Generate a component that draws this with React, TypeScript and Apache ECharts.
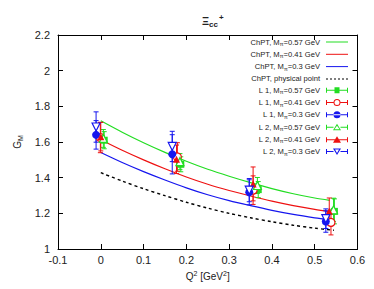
import React, { useEffect, useRef } from "react";
import * as echarts from "echarts";

// ChPT curves
const qLine = [0, 0.05, 0.1, 0.15, 0.2, 0.25, 0.3, 0.35, 0.4, 0.45, 0.5, 0.535];
const gChPT057 = [1.719, 1.655, 1.596, 1.542, 1.492, 1.447, 1.408, 1.372, 1.339, 1.31, 1.286, 1.273];
const gChPT041 = [1.613, 1.554, 1.5, 1.45, 1.404, 1.363, 1.328, 1.297, 1.268, 1.243, 1.222, 1.21];
const gChPT030 = [1.541, 1.485, 1.434, 1.387, 1.343, 1.304, 1.271, 1.243, 1.217, 1.194, 1.175, 1.164];
const qPhys = [0, 0.05, 0.1, 0.15, 0.2, 0.25, 0.3, 0.35, 0.4, 0.45, 0.5, 0.545];
const gPhys = [1.428, 1.381, 1.338, 1.299, 1.262, 1.229, 1.2, 1.175, 1.153, 1.133, 1.117, 1.105];

// lattice data: Q^2, G_M, error
const qL1_057 = [0.008, 0.187, 0.368, 0.546];
const gL1_057 = [1.61, 1.475, 1.333, 1.211];
const eL1_057 = [0.048, 0.042, 0.045, 0.07];
const qL1_041 = [-0.001, 0.179, 0.356, 0.538];
const gL1_041 = [1.625, 1.516, 1.33, 1.149];
const eL1_041 = [0.085, 0.08, 0.08, 0.07];
const qL1_030 = [-0.011, 0.167, 0.347, 0.526];
const gL1_030 = [1.64, 1.531, 1.318, 1.154];
const eL1_030 = [0.08, 0.11, 0.07, 0.06];
const qL2_057 = [0.006, 0.185, 0.366, 0.544];
const gL2_057 = [1.62, 1.49, 1.356, 1.22];
const eL2_057 = [0.05, 0.045, 0.045, 0.065];
const qL2_041 = [0.0, 0.177, 0.356, 0.534];
const gL2_041 = [1.63, 1.503, 1.365, 1.211];
const eL2_041 = [0.08, 0.08, 0.095, 0.075];
const qL2_030 = [-0.011, 0.167, 0.347, 0.526];
const gL2_030 = [1.684, 1.575, 1.33, 1.17];
const eL2_030 = [0.085, 0.085, 0.065, 0.055];

const xTicks = { min: -0.1, max: 0.6, interval: 0.1 };
const yTicks = { min: 1, max: 2.2, interval: 0.2 };

const GREEN = "#22dd22";
const RED = "#ee1111";
const BLUE = "#1515ee";
const FONT = "Liberation Sans, Arial, sans-serif";

const N_057 = "ChPT, Mπ=0.57 GeV";
const N_041 = "ChPT, Mπ=0.41 GeV";
const N_030 = "ChPT, Mπ=0.3 GeV";
const N_PHYS = "ChPT, physical point";
const N_L1_057 = "L 1, Mπ=0.57 GeV";
const N_L1_041 = "L 1, Mπ=0.41 GeV";
const N_L1_030 = "L 1, Mπ=0.3 GeV";
const N_L2_057 = "L 2, Mπ=0.57 GeV";
const N_L2_041 = "L 2, Mπ=0.41 GeV";
const N_L2_030 = "L 2, Mπ=0.3 GeV";

const ICON_LINE = "path://M0,7 H44 V9 H0 Z";
const ICON_DASH =
  "path://M0,7 H4 V9 H0 Z M8,7 H12 V9 H8 Z M16,7 H20 V9 H16 Z M24,7 H28 V9 H24 Z M32,7 H36 V9 H32 Z M40,7 H44 V9 H40 Z";
const BAR = "M0,7 H44 V9 H0 Z M0,3 H2 V13 H0 Z M42,3 H44 V13 H42 Z ";
const BAR_SPLIT = "M0,7 H15 V9 H0 Z M29,7 H44 V9 H29 Z M0,3 H2 V13 H0 Z M42,3 H44 V13 H42 Z ";
const ICON_SQ = "path://" + BAR + "M17,2 H27 V14 H17 Z";
const ICON_CIRC = "path://" + BAR + "M15,8 A7,7 0 1,0 29,8 A7,7 0 1,0 15,8 Z";
const ICON_OCIRC =
  "path://" + BAR_SPLIT + "M15,8 A7,7 0 1,1 29,8 A7,7 0 1,1 15,8 Z M17,8 A5,5 0 1,0 27,8 A5,5 0 1,0 17,8 Z";
const ICON_TRI = "path://" + BAR + "M22,1 L30,14 L14,14 Z";
const ICON_OTRI = "path://" + BAR_SPLIT + "M22,1 L30,14 L14,14 Z M22,5 L17,12 L27,12 Z";
const ICON_ODTRI = "path://" + BAR_SPLIT + "M14,2 L30,2 L22,15 Z M18,4 L22,11 L26,4 Z";

function zip(a: number[], b: number[]) {
  return a.map((v, i) => [v, b[i]]);
}
function zip3(a: number[], b: number[], c: number[]) {
  return a.map((v, i) => [v, b[i], c[i]]);
}

function errSeries(q: number[], g: number[], e: number[], color: string) {
  return {
    type: "custom",
    data: zip3(q, g, e),
    encode: { x: 0, y: 1 },
    z: 2,
    silent: true,
    renderItem: (_p: any, api: any) => {
      const x = api.value(0);
      const y = api.value(1);
      const er = api.value(2);
      const top = api.coord([x, y + er]);
      const bot = api.coord([x, y - er]);
      const st = { stroke: color, lineWidth: 1 };
      return {
        type: "group",
        children: [
          { type: "line", shape: { x1: top[0], y1: top[1], x2: bot[0], y2: bot[1] }, style: st },
          { type: "line", shape: { x1: top[0] - 2.5, y1: top[1], x2: top[0] + 2.5, y2: top[1] }, style: st },
          { type: "line", shape: { x1: bot[0] - 2.5, y1: bot[1], x2: bot[0] + 2.5, y2: bot[1] }, style: st },
        ],
      };
    },
  };
}

function pointSeries(name: string, q: number[], g: number[], color: string, symbol: string, size: number, open: boolean, rotate = 0) {
  return {
    type: "scatter",
    name,
    data: zip(q, g),
    symbol,
    symbolSize: size,
    symbolRotate: rotate,
    z: 3,
    itemStyle: open
      ? { color: "#ffffff", borderColor: color, borderWidth: 1.2, opacity: 1 }
      : { color, opacity: 1 },
  };
}

function lineSeries(name: string, q: number[], g: number[], color: string, dashed: boolean) {
  return {
    type: "line",
    name,
    data: zip(q, g),
    showSymbol: false,
    symbol: "none",
    smooth: 0.3,
    z: 1,
    itemStyle: { color },
    lineStyle: { color, width: dashed ? 1.4 : 1.2, type: dashed ? [3, 3] : "solid" },
  };
}

export default function App() {
  const ref = useRef<HTMLDivElement>(null);
  useEffect(() => {
    if (!ref.current) return;
    const chart = echarts.init(ref.current, null, { renderer: "svg" });
    const axisLbl = { color: "#222", fontSize: 11, fontFamily: FONT };
    const legItem = (name: string, icon: string, color: string) => ({
      name,
      icon,
      itemStyle: { color, borderWidth: 0, opacity: 1 },
      lineStyle: { width: 0 },
    });
    chart.setOption({
      animation: false,
      backgroundColor: "#ffffff",
      title: {
        text: "{a|Ξ}{b|cc}{c|+}",
        left: 197,
        top: 8,
        textStyle: {
          rich: {
            a: { fontSize: 11, color: "#222", fontFamily: FONT },
            b: { fontSize: 8, color: "#222", fontFamily: FONT, padding: [7, 0, 0, 0] },
            c: { fontSize: 8, color: "#222", fontFamily: FONT, padding: [0, 0, 8, 1] },
          },
        },
      },
      grid: { left: 58, right: 16.5, top: 35, bottom: 40 },
      legend: {
        orient: "vertical",
        right: 26,
        top: 38,
        padding: 0,
        align: "right",
        itemWidth: 22,
        itemHeight: 8,
        itemGap: 3.3,
        selectedMode: false,
        textStyle: {
          fontSize: 7.6,
          color: "#222",
          fontFamily: FONT,
          lineHeight: 8,
          padding: [0, 1, 0, 0],
          rich: {
            s: { fontSize: 5.5, color: "#222", fontFamily: FONT, padding: [4, 0, 0, 0] },
          },
        },
        formatter: (name: string) => name.replace("Mπ", "M{s|π}"),
        data: [
          legItem(N_057, ICON_LINE, GREEN),
          legItem(N_041, ICON_LINE, RED),
          legItem(N_030, ICON_LINE, BLUE),
          legItem(N_PHYS, ICON_DASH, "#000"),
          legItem(N_L1_057, ICON_SQ, GREEN),
          legItem(N_L1_041, ICON_OCIRC, RED),
          legItem(N_L1_030, ICON_CIRC, BLUE),
          legItem(N_L2_057, ICON_OTRI, GREEN),
          legItem(N_L2_041, ICON_TRI, RED),
          legItem(N_L2_030, ICON_ODTRI, BLUE),
        ],
      },
      xAxis: [
        {
          type: "value",
          ...xTicks,
          name: "{a|Q}{s|2}{a| [GeV}{s|2}{a|]}",
          nameLocation: "middle",
          nameGap: 19,
          nameTextStyle: {
            rich: {
              a: { fontSize: 10, color: "#222", fontFamily: FONT },
              s: { fontSize: 7, color: "#222", fontFamily: FONT, padding: [0, 0, 7, 0] },
            },
          },
          axisLine: { show: true, onZero: false, lineStyle: { color: "#000", width: 1 } },
          axisTick: { show: true, inside: true, length: 5, lineStyle: { color: "#000" } },
          axisLabel: { ...axisLbl, margin: 5, formatter: (v: number) => String(+v.toFixed(1)) },
          splitLine: { show: false },
        },
        {
          type: "value",
          position: "top",
          ...xTicks,
          axisLine: { show: true, onZero: false, lineStyle: { color: "#000", width: 1 } },
          axisTick: { show: true, inside: true, length: 5, lineStyle: { color: "#000" } },
          axisLabel: { show: false },
          splitLine: { show: false },
        },
      ],
      yAxis: [
        {
          type: "value",
          ...yTicks,
          name: "{a|G}{s|M}",
          nameLocation: "middle",
          nameGap: 31,
          nameTextStyle: {
            rich: {
              a: { fontSize: 10, color: "#222", fontFamily: FONT },
              s: { fontSize: 7, color: "#222", fontFamily: FONT, padding: [6, 0, 0, 0] },
            },
          },
          axisLine: { show: true, onZero: false, lineStyle: { color: "#000", width: 1 } },
          axisTick: { show: true, inside: true, length: 5, lineStyle: { color: "#000" } },
          axisLabel: { ...axisLbl, margin: 8, formatter: (v: number) => String(+v.toFixed(1)) },
          splitLine: { show: false },
        },
        {
          type: "value",
          position: "right",
          ...yTicks,
          axisLine: { show: true, onZero: false, lineStyle: { color: "#000", width: 1 } },
          axisTick: { show: true, inside: true, length: 5, lineStyle: { color: "#000" } },
          axisLabel: { show: false },
          splitLine: { show: false },
        },
      ],
      series: [
        lineSeries(N_057, qLine, gChPT057, GREEN, false),
        lineSeries(N_041, qLine, gChPT041, RED, false),
        lineSeries(N_030, qLine, gChPT030, BLUE, false),
        lineSeries(N_PHYS, qPhys, gPhys, "#000", true),
        errSeries(qL1_057, gL1_057, eL1_057, GREEN),
        errSeries(qL1_041, gL1_041, eL1_041, RED),
        errSeries(qL1_030, gL1_030, eL1_030, BLUE),
        errSeries(qL2_057, gL2_057, eL2_057, GREEN),
        errSeries(qL2_041, gL2_041, eL2_041, RED),
        errSeries(qL2_030, gL2_030, eL2_030, BLUE),
        pointSeries(N_L1_057, qL1_057, gL1_057, GREEN, "rect", 7, false),
        pointSeries(N_L1_041, qL1_041, gL1_041, RED, "circle", 8, true),
        pointSeries(N_L1_030, qL1_030, gL1_030, BLUE, "circle", 8, false),
        pointSeries(N_L2_057, qL2_057, gL2_057, GREEN, "triangle", 8, true),
        pointSeries(N_L2_041, qL2_041, gL2_041, RED, "triangle", 7, false),
        pointSeries(N_L2_030, qL2_030, gL2_030, BLUE, "triangle", 8, true, 180),
      ],
    });
    return () => chart.dispose();
  }, []);
  return (
    <div
      ref={ref}
      style={{ position: "fixed", left: 0, top: 0, width: 374, height: 289, background: "#fff" }}
    />
  );
}
